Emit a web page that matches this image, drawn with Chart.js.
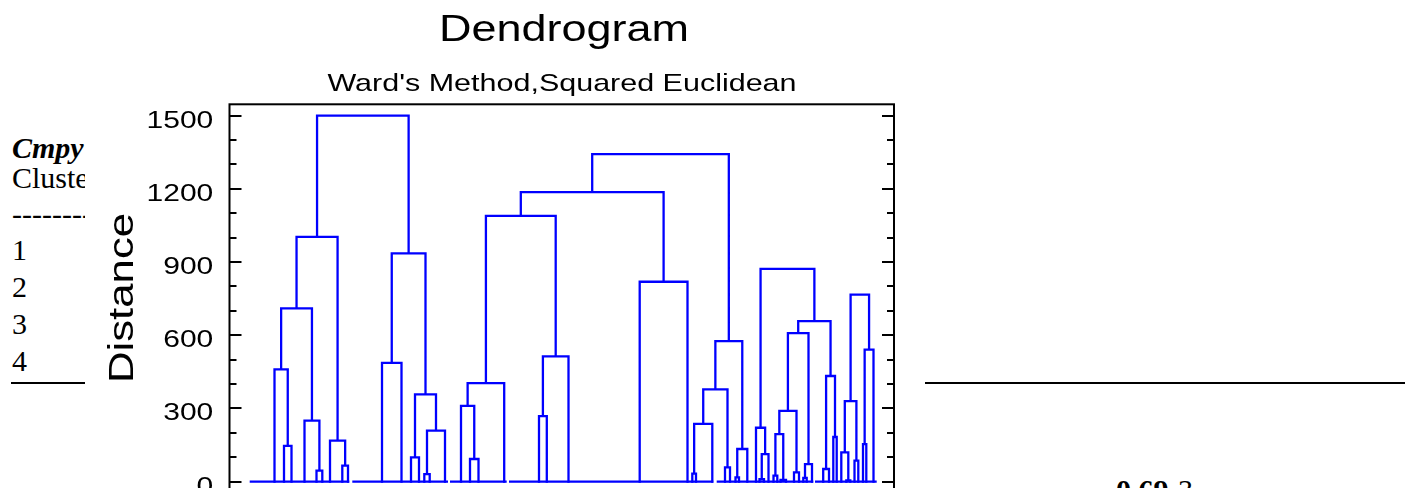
<!DOCTYPE html>
<html><head><meta charset="utf-8">
<script src="https://cdn.jsdelivr.net/npm/chart.js@4.4.1/dist/chart.umd.min.js"></script>
<style>
html,body{margin:0;padding:0;background:#fff;width:1405px;height:488px;overflow:hidden;position:relative;}
.bg{position:absolute;font-family:"Liberation Serif","Times New Roman",serif;font-size:30px;line-height:30px;color:#000;white-space:nowrap;}
#rule{position:absolute;left:11px;top:382px;width:1394px;height:2px;background:#000;}
#wrap{position:absolute;left:85px;top:0;width:840px;height:540px;background:#fff;}
canvas{display:block;}
</style></head><body>
<div class="bg" style="left:12px;top:133px;font-weight:bold;font-style:italic">Cmpy</div>
<div class="bg" style="left:12px;top:163px">Cluster</div>
<div class="bg" style="left:12px;top:199px">----------</div>
<div class="bg" style="left:12px;top:235px">1</div>
<div class="bg" style="left:12px;top:272px">2</div>
<div class="bg" style="left:12px;top:309px">3</div>
<div class="bg" style="left:12px;top:346px">4</div>
<div id="rule"></div>
<div class="bg" style="left:1116px;top:475px;font-weight:bold">0.69</div>
<div class="bg" style="left:1178px;top:475px">3</div>
<div id="wrap"><canvas id="c" width="840" height="540"></canvas></div>
<script>
// ---- data ----
const chartTitle = "Dendrogram";
const chartSubtitle = "Ward's Method,Squared Euclidean";
const yAxisTitle = "Distance";
const yLabelValues = [0, 300, 600, 900, 1200, 1500];
const yMinorValues = [100, 200, 400, 500, 700, 800, 1000, 1100, 1300, 1400];

// leaf positions along the (unlabelled) observation axis, in leaf order
const leafPositions = [
  45.0, 54.5, 62.0, 75.0, 87.0, 92.8, 100.5, 112.8, 118.5, 152.5,
  172.0, 181.5, 189.5, 194.8, 200.2, 215.5, 231.5, 240.5, 249.0, 274.7,
  309.5, 317.3, 339.0, 410.2, 458.0, 462.8, 466.5, 482.8, 495.5, 500.5,
  506.0, 509.5, 517.8, 526.5, 530.0, 534.5, 539.0, 544.0, 547.8, 551.0,
  556.5, 564.5, 569.5, 573.8, 577.2, 582.5, 593.7, 599.5, 603.8, 607.2,
  611.8, 616.8, 620.8, 625.0, 628.8, 633.5, 636.8, 644.0
];
// linkage: [node a, node b, merge distance]; nodes >= 58 are earlier merges (58 + row)
const linkage = [
  [1, 2, 147], [0, 58, 460], [4, 5, 45], [3, 60, 250], [59, 61, 710],
  [7, 8, 66], [6, 63, 168], [62, 64, 1003], [9, 10, 487], [11, 12, 100],
  [13, 14, 31], [68, 15, 209], [67, 69, 358], [66, 70, 935], [65, 71, 1500],
  [17, 18, 93], [16, 73, 311], [74, 19, 404], [20, 21, 269], [76, 22, 513],
  [75, 77, 1089], [23, 24, 819], [78, 79, 1186], [25, 26, 33], [81, 27, 237],
  [28, 29, 59], [82, 83, 378], [30, 31, 18], [85, 32, 134], [84, 86, 576],
  [80, 87, 1342],
  [34, 35, 10], [89, 36, 113], [33, 90, 221], [37, 38, 25], [39, 40, 7],
  [92, 93, 195], [41, 42, 38], [94, 95, 290], [43, 44, 16], [97, 45, 72],
  [96, 98, 609], [46, 47, 52], [48, 49, 183], [100, 101, 433], [99, 102, 658],
  [91, 103, 872],
  [51, 52, 5], [50, 105, 120], [53, 54, 86], [106, 107, 330], [55, 56, 154],
  [109, 57, 541], [108, 110, 766]
];
// runs of observations joined at zero distance
const zeroRuns = [[20.2, 119.8], [122.8, 218.5], [220.5, 277.2], [279.5, 483.8], [487.2, 583.8], [585.5, 647.2]];

// ---- build link polylines from the tree ----
const nodeX = leafPositions.slice();
const nodeH = leafPositions.map(() => 0);
const linkPts = [];
linkage.forEach(([a, b, h]) => {
  linkPts.push({x: nodeX[a], y: nodeH[a]}, {x: nodeX[a], y: h}, {x: nodeX[b], y: h}, {x: nodeX[b], y: nodeH[b]}, {x: nodeX[b], y: null});
  nodeX.push((nodeX[a] + nodeX[b]) / 2);
  nodeH.push(h);
});
const zeroPts = [];
zeroRuns.forEach(([s, e]) => { zeroPts.push({x: s, y: 0}, {x: e, y: 0}, {x: e, y: null}); });

const FONT = '"Liberation Sans", Arial, Helvetica, sans-serif';
const STRETCH = 1.25;
function wideText(ctx, txt, x, y, size, align, rot) {
  ctx.save();
  ctx.translate(x, y);
  if (rot) ctx.rotate(rot);
  ctx.scale(STRETCH, 1);
  ctx.font = size + 'px ' + FONT;
  ctx.textAlign = align;
  ctx.textBaseline = 'alphabetic';
  ctx.fillStyle = '#000';
  ctx.fillText(txt, 0, 0);
  ctx.restore();
}

const framePlugin = {
  id: 'frame',
  beforeDraw(chart) {
    const c = chart.ctx;
    c.save(); c.fillStyle = '#fff'; c.fillRect(0, 0, chart.width, chart.height); c.restore();
  },
  afterDraw(chart) {
    const ctx = chart.ctx, a = chart.chartArea, ys = chart.scales.y;
    ctx.save();
    ctx.strokeStyle = '#000';
    ctx.lineWidth = 2;
    ctx.strokeRect(a.left, a.top, a.right - a.left, a.bottom - a.top);
    const tick = (v, len) => {
      const py = Math.round(ys.getPixelForValue(v));
      ctx.beginPath();
      ctx.moveTo(a.left, py); ctx.lineTo(a.left + len, py);
      ctx.moveTo(a.right, py); ctx.lineTo(a.right - len, py);
      ctx.stroke();
    };
    yMinorValues.forEach(v => tick(v, 7));
    yLabelValues.forEach(v => tick(v, 12));
    ctx.restore();
    yLabelValues.forEach(v => wideText(ctx, String(v), a.left - 16.2, ys.getPixelForValue(v) + 12, 24, 'right'));
    wideText(ctx, chartTitle, 479, 41, 36, 'center');
    wideText(ctx, chartSubtitle, 477, 91, 24.4, 'center');
    wideText(ctx, yAxisTitle, 48.3, 298, 35, 'center', -Math.PI / 2);
  }
};

new Chart(document.getElementById('c'), {
  type: 'line',
  data: {
    datasets: [
      {data: linkPts, borderColor: '#0000ff', borderWidth: 2.3, pointRadius: 0, spanGaps: false, fill: false, tension: 0, borderCapStyle: 'square'},
      {data: zeroPts, borderColor: '#0000ff', borderWidth: 2.3, pointRadius: 0, spanGaps: false, fill: false, tension: 0}
    ]
  },
  options: {
    responsive: false,
    animation: false,
    devicePixelRatio: 1,
    layout: {padding: {left: 144.5, right: 31, top: 104.3, bottom: 46.1}},
    plugins: {legend: {display: false}, tooltip: {enabled: false}, title: {display: false}},
    scales: {
      x: {type: 'linear', min: 0, max: 664.5, display: false},
      y: {type: 'linear', min: -50, max: 1546, display: false}
    }
  },
  plugins: [framePlugin]
});
</script>
</body></html>
